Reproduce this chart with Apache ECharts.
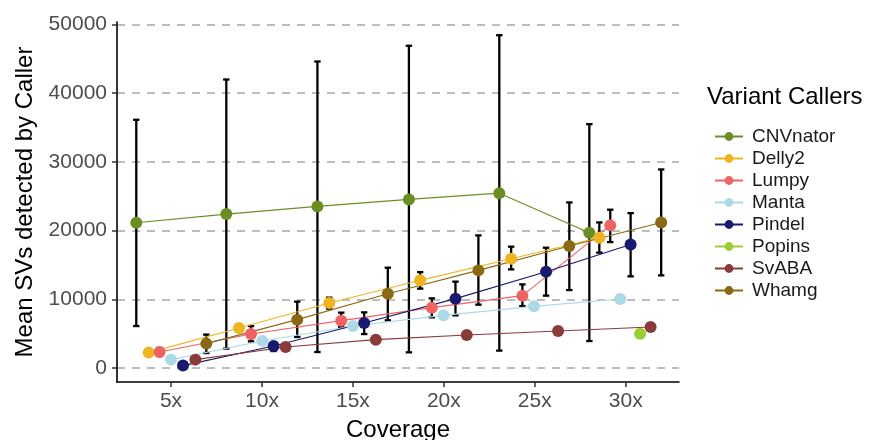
<!DOCTYPE html>
<html>
<head>
<meta charset="utf-8">
<script src="https://cdn.jsdelivr.net/npm/echarts@6/dist/echarts.min.js"></script>
<style>html,body{margin:0;padding:0;background:#fff;}#chart{width:870px;height:440px;}</style>
</head>
<body>
<div id="chart"></div>
<script>
// ---- data (x = dodged coverage position, y = mean SVs, low/high = error bar) ----
const callers = ['CNVnator', 'Delly2', 'Lumpy', 'Manta', 'Pindel', 'Popins', 'SvABA', 'Whamg'];
const colors  = ['#6B8E23', '#EEB422', '#EE6363', '#ADD8E6', '#191970', '#9ACD32', '#8B3A3A', '#8B6914'];
const xTicks = [5, 10, 15, 20, 25, 30];
const yTicks = [0, 10000, 20000, 30000, 40000, 50000];

const cnvX    = [3.09, 8.04, 13.05, 18.08, 23.05, 28.0];
const cnvMean = [21150, 22400, 23520, 24540, 25450, 19700];
const cnvLow  = [6110, 2820, 2330, 2280, 2530, 3930];
const cnvHigh = [36130, 41990, 44610, 46900, 48440, 35490];

const dellyX    = [3.77, 8.74, 13.70, 18.70, 23.70, 28.55];
const dellyMean = [2240, 5820, 9455, 12760, 15910, 18970];
const dellyLow  = [null, null, 8640, 11550, 14360, 16790];
const dellyHigh = [null, null, 10240, 13960, 17660, 21190];

const lumpyX    = [4.37, 9.40, 14.36, 19.34, 24.32, 29.15];
const lumpyMean = [2330, 4945, 6895, 8785, 10530, 20760];
const lumpyLow  = [1750, 3880, 5960, 7375, 9020, 18330];
const lumpyHigh = [2910, 6110, 8060, 10140, 12175, 23040];

const mantaX    = [5.0, 10.02, 15.0, 19.98, 24.95, 29.70];
const mantaMean = [1220, 3930, 6110, 7665, 8975, 10040];

const pindelX    = [5.66, 10.64, 15.62, 20.64, 25.62, 30.27];
const pindelMean = [350, 3200, 6545, 10095, 14020, 17990];
const pindelLow  = [null, 2470, 4945, 7665, 10530, 13340];
const pindelHigh = [null, 3695, 8100, 12570, 17510, 22545];

const popinsX    = [30.79];
const popinsMean = [5000];

const svabaX    = [6.34, 11.30, 16.26, 21.26, 26.28, 31.37];
const svabaMean = [1220, 3055, 4130, 4800, 5380, 5960];

const whamgX    = [6.94, 11.94, 16.92, 21.90, 26.90, 31.95];
const whamgMean = [3550, 7040, 10820, 14210, 17745, 21190];
const whamgLow  = [2180, 4510, 6940, 9220, 11345, 13480];
const whamgHigh = [4860, 9660, 14600, 19300, 24100, 28900];

const seriesData = {
  CNVnator: [cnvX, cnvMean, cnvLow, cnvHigh],
  Delly2: [dellyX, dellyMean, dellyLow, dellyHigh],
  Lumpy: [lumpyX, lumpyMean, lumpyLow, lumpyHigh],
  Manta: [mantaX, mantaMean, null, null],
  Pindel: [pindelX, pindelMean, pindelLow, pindelHigh],
  Popins: [popinsX, popinsMean, null, null],
  SvABA: [svabaX, svabaMean, null, null],
  Whamg: [whamgX, whamgMean, whamgLow, whamgHigh]
};

const FONT = "'Liberation Sans', Arial, Helvetica, sans-serif";
const chart = echarts.init(document.getElementById('chart'), null, {renderer: 'canvas'});

const series = [];
// error bars first (below)
callers.forEach((name) => {
  const [xs, , lo, hi] = seriesData[name];
  if (!lo) return;
  const data = [];
  xs.forEach((x, i) => { if (lo[i] != null) data.push([x, lo[i], hi[i]]); });
  series.push({
    type: 'custom',
    name: name + ' error',
    silent: true,
    z: 1,
    encode: {x: 0, y: [1, 2]},
    data: data,
    renderItem: function (params, api) {
      const x = api.value(0);
      const pLo = api.coord([x, api.value(1)]);
      const pHi = api.coord([x, api.value(2)]);
      const w = 3.2;
      const st = {stroke: '#000', lineWidth: 2.3};
      return {
        type: 'group',
        children: [
          {type: 'line', shape: {x1: pLo[0], y1: pLo[1], x2: pHi[0], y2: pHi[1]}, style: st},
          {type: 'line', shape: {x1: pHi[0] - w, y1: pHi[1], x2: pHi[0] + w, y2: pHi[1]}, style: st},
          {type: 'line', shape: {x1: pLo[0] - w, y1: pLo[1], x2: pLo[0] + w, y2: pLo[1]}, style: st}
        ]
      };
    }
  });
});
callers.forEach((name, k) => {
  const [xs, ys] = seriesData[name];
  series.push({
    type: 'line',
    name: name,
    z: 3,
    data: xs.map((x, i) => [x, ys[i]]),
    symbol: 'circle',
    symbolSize: 12,
    showSymbol: true,
    color: colors[k],
    itemStyle: {color: colors[k]},
    lineStyle: {color: colors[k], width: 1.1},
    emphasis: {disabled: true}
  });
});

chart.setOption({
  animation: false,
  backgroundColor: '#fff',
  textStyle: {fontFamily: FONT},
  grid: {left: 117, top: 22, width: 562, height: 360, containLabel: false, outerBoundsMode: 'none'},
  graphic: [
    {type: 'text', left: 707, top: 85, style: {text: 'Variant Callers', font: "24px " + FONT, fill: '#000'}}
  ],
  legend: {
    data: callers,
    orient: 'vertical',
    left: 709,
    top: 122,
    itemWidth: 28,
    itemHeight: 11,
    itemGap: 3,
    lineStyle: {width: 2},
    textStyle: {fontSize: 19, fontFamily: FONT, color: '#1a1a1a', padding: [0, 0, 0, 4]},
    selectedMode: false
  },
  xAxis: {
    type: 'value',
    min: 2.03,
    max: 32.93,
    name: 'Coverage',
    nameLocation: 'middle',
    nameGap: 36,
    nameTextStyle: {fontSize: 24, color: '#000', fontFamily: FONT},
    axisLine: {show: true, onZero: false, lineStyle: {color: '#000', width: 1.6}},
    axisTick: {show: true, customValues: xTicks, length: 5, lineStyle: {color: '#333', width: 1.5}},
    axisLabel: {customValues: xTicks, formatter: v => v + 'x', fontSize: 21, color: '#4d4d4d', margin: 9, fontFamily: FONT},
    splitLine: {show: false}
  },
  yAxis: {
    type: 'value',
    min: -2036,
    max: 50360,
    name: 'Mean SVs detected by Caller',
    nameLocation: 'middle',
    nameGap: 78,
    nameTextStyle: {fontSize: 24, color: '#000', fontFamily: FONT},
    axisLine: {show: true, onZero: false, lineStyle: {color: '#000', width: 1.6}},
    axisTick: {show: true, customValues: yTicks, length: 5, lineStyle: {color: '#333', width: 1.5}},
    axisLabel: {customValues: yTicks, formatter: v => String(v), fontSize: 21, color: '#4d4d4d', margin: 10, fontFamily: FONT},
    splitLine: {show: true, lineStyle: {color: '#bdbdbd', width: 1.8, type: [8, 7]}}
  },
  series: series
});
</script>
</body>
</html>
